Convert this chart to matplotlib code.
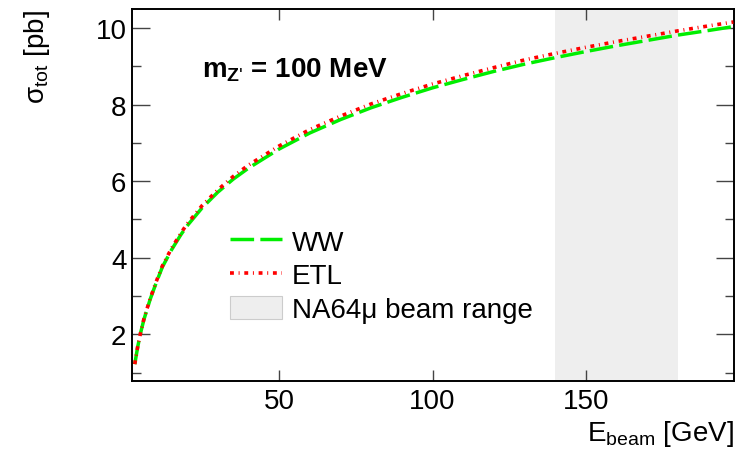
import matplotlib
matplotlib.use("Agg")
import matplotlib.pyplot as plt
from matplotlib.patches import Patch
from matplotlib.lines import Line2D

plt.rcParams['font.family'] = ['Liberation Sans', 'DejaVu Sans']
plt.rcParams['mathtext.fontset'] = 'custom'
plt.rcParams['mathtext.rm'] = 'Liberation Sans'
plt.rcParams['mathtext.it'] = 'Liberation Sans:italic'
plt.rcParams['mathtext.bf'] = 'Liberation Sans:bold'
plt.rcParams['lines.scale_dashes'] = False

# beam energy [GeV] and total cross section [pb]
e_beam = [3, 4, 5, 6, 8, 10, 12, 15, 18, 20, 25, 30, 35, 40, 50, 60, 70, 80,
          90, 100, 110, 120, 130, 140, 150, 160, 170, 180, 190, 198]
sigma_ww = [1.22, 1.69, 2.07, 2.39, 2.91, 3.35, 3.76, 4.21, 4.60, 4.83, 5.31,
            5.71, 6.05, 6.34, 6.84, 7.26, 7.61, 7.92, 8.19, 8.44, 8.66, 8.87,
            9.06, 9.23, 9.39, 9.54, 9.68, 9.82, 9.94, 10.04]
sigma_etl = [1.22, 1.70, 2.08, 2.41, 2.93, 3.38, 3.79, 4.25, 4.64, 4.88, 5.37,
             5.77, 6.12, 6.42, 6.92, 7.35, 7.70, 8.02, 8.29, 8.54, 8.76, 8.97,
             9.17, 9.34, 9.50, 9.65, 9.79, 9.93, 10.06, 10.16]
beam_range = (140, 180)

fig = plt.figure(figsize=(7.43, 4.52), dpi=100)
ax = fig.add_axes([132/743, 1-382/452, (734-132)/743, (382-10)/452])

ax.axvspan(beam_range[0], beam_range[1], color='#eeeeee', lw=0, zorder=0)
ax.plot(e_beam, sigma_ww, color='#00ee00', lw=2.5, dashes=(17, 4.5), zorder=2)
ax.plot(e_beam, sigma_etl, color='#ff0000', lw=2.6,
        dashes=(2.8, 3.4, 0.7, 3.4), zorder=3)

ax.set_xlim(2.1, 198.2)
ax.set_ylim(0.78, 10.5)
ax.set_xticks([50, 100, 150])
ax.set_yticks([2, 4, 6, 8, 10])
ax.set_yticks([1, 3, 5, 7, 9], minor=True)
ax.tick_params(which='both', direction='in', top=True, right=True,
               labelsize=20, color='#444444', width=1)
ax.tick_params(axis='y', which='major', length=13, pad=4)
ax.tick_params(axis='y', which='minor', length=6.5)
ax.tick_params(axis='x', which='major', length=8, pad=5)
for s in ax.spines.values():
    s.set_linewidth(1.4)

fig.text(734/743, 1-441/452, r'E$_{\mathrm{beam}}$ [GeV]', fontsize=20,
         ha='right', va='baseline')
fig.text(22/743, 1-10/452, r'σ$_{\mathrm{tot}}$ [pb]', fontsize=20,
         rotation=90, ha='left', va='top')
fig.text(202/743, 1-78/452, r"m$_{\mathbf{Z}\text{'}}$ = 100 MeV", fontsize=20,
         fontweight='bold', ha='left', va='baseline')

handles = [Line2D([], [], color='#00ee00', lw=2.5, dashes=(17, 4.5)),
           Line2D([], [], color='#ff0000', lw=2.6, dashes=(2.8, 3.4, 0.7, 3.4)),
           Patch(facecolor='#eeeeee', edgecolor='#cccccc', lw=0.8)]
ax.legend(handles, ['WW', 'ETL', 'NA64μ beam range'], loc='upper left',
          bbox_to_anchor=(230/743, 1-230/452), bbox_transform=fig.transFigure,
          frameon=False, fontsize=20, handlelength=1.87, handleheight=0.86,
          handletextpad=0.36, labelspacing=0.25, borderpad=0, borderaxespad=0)

fig.savefig('out.png', dpi=100)
